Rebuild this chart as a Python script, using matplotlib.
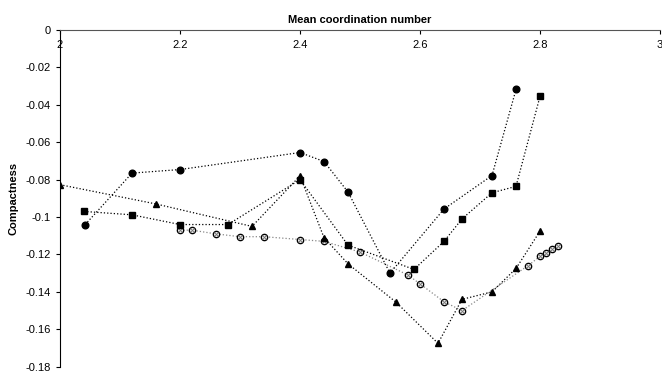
import matplotlib
matplotlib.use("Agg")
from matplotlib import pyplot as plt

plt.rcParams['font.family'] = ['Liberation Sans', 'DejaVu Sans']

# filled circles
x_circ = [2.042, 2.12, 2.2, 2.4, 2.44, 2.48, 2.55, 2.64, 2.72, 2.76]
y_circ = [-0.104, -0.0765, -0.0746, -0.0655, -0.0703, -0.0866, -0.130, -0.0957, -0.0778, -0.0318]

# filled squares
x_sq = [2.04, 2.12, 2.2, 2.28, 2.4, 2.48, 2.59, 2.64, 2.67, 2.72, 2.76, 2.8]
y_sq = [-0.097, -0.0988, -0.104, -0.104, -0.080, -0.115, -0.128, -0.113, -0.101, -0.087, -0.0836, -0.0355]

# filled triangles
x_tri = [2.0, 2.16, 2.32, 2.4, 2.44, 2.48, 2.56, 2.63, 2.67, 2.72, 2.76, 2.8]
y_tri = [-0.0827, -0.093, -0.105, -0.078, -0.111, -0.125, -0.1455, -0.1675, -0.144, -0.140, -0.1275, -0.1075]

# open circles
x_open = [2.2, 2.22, 2.26, 2.30, 2.34, 2.4, 2.44, 2.50, 2.58, 2.60, 2.64, 2.67, 2.78, 2.80, 2.81, 2.82, 2.83]
y_open = [-0.107, -0.107, -0.109, -0.1105, -0.1105, -0.112, -0.113, -0.1187, -0.131, -0.1357,
          -0.1453, -0.150, -0.126, -0.121, -0.119, -0.117, -0.1155]

xticks = [2, 2.2, 2.4, 2.6, 2.8, 3]
xticklabels = ["2", "2.2", "2.4", "2.6", "2.8", "3"]
yticks = [0, -0.02, -0.04, -0.06, -0.08, -0.1, -0.12, -0.14, -0.16, -0.18]
yticklabels = ["0", "-0.02", "-0.04", "-0.06", "-0.08", "-0.1", "-0.12", "-0.14", "-0.16", "-0.18"]

fig = plt.figure(figsize=(6.62, 3.72), dpi=100)
ax = fig.add_axes([60/662, 1-366.7/372, 600/662, 336.7/372])

ax.plot(x_open, y_open, ":", color="#888888", lw=0.9, marker="o", ms=4.5,
        mfc="white", mec="black", mew=1, zorder=2)
ax.plot(x_open, y_open, "none", marker="x", ms=2.5, mec="#777777", mew=0.7, zorder=3)
ax.plot(x_sq, y_sq, ":", color="black", lw=0.9, marker="s", ms=4.5, zorder=4)
ax.plot(x_tri, y_tri, ":", color="black", lw=0.9, marker="^", ms=5, zorder=4)
ax.plot(x_circ, y_circ, ":", color="black", lw=0.9, marker="o", ms=4.8, zorder=4)

ax.set_xlim(2, 3)
ax.set_ylim(-0.18, 0)
ax.spines['right'].set_visible(False)
ax.spines['top'].set_visible(False)
ax.spines['bottom'].set_position(('data', 0))
ax.spines['bottom'].set_color('#555555')

ax.set_xticks(xticks)
ax.set_xticklabels(xticklabels)
ax.set_yticks(yticks)
ax.set_yticklabels(yticklabels)
ax.tick_params(axis='both', labelsize=8, length=3, width=0.8, direction='out')
ax.tick_params(axis='x', pad=4, colors='black')

ax.set_title("Mean coordination number", fontsize=8, fontweight='bold', pad=5)
ax.set_ylabel("Compactness", fontsize=8, fontweight='bold', labelpad=5)

fig.savefig("out.png", dpi=100)
